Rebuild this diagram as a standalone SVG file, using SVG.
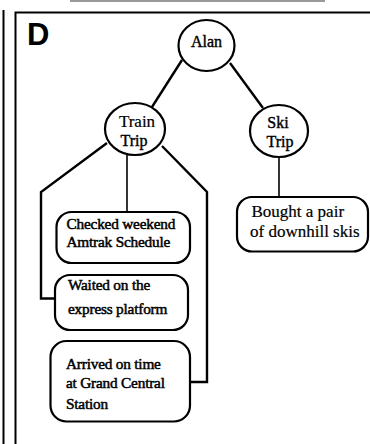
<svg xmlns="http://www.w3.org/2000/svg" width="370" height="444" viewBox="0 0 370 444">
  <style>
    .frame { fill: none; stroke: #000; stroke-width: 2; }
    .node { fill: #fff; stroke: #000; stroke-width: 2.2; }
    .edge { fill: none; stroke: #000; stroke-width: 2.4; stroke-linejoin: miter; }
    .stem { fill: none; stroke: #000; stroke-width: 1.6; }
    .lbl { font-family: "Liberation Serif", "Times New Roman", serif; fill: #000; stroke: #000; stroke-width: 0.4; }
    .big { font-size: 17px; stroke-width: 0.2; }
    .mid { font-size: 16px; }
    .small { font-size: 15.3px; letter-spacing: -0.2px; stroke-width: 0.5; }
  </style>
  <rect width="370" height="444" fill="#fff"/>

  <!-- panel borders -->
  <g id="frame">
    <line x1="70" y1="1" x2="325" y2="1" stroke="#999" stroke-width="2"/>
    <line x1="3.5" y1="10" x2="3.5" y2="444" class="frame"/>
    <polyline points="15.5,444 15.5,12.5 370,12.5" class="frame"/>
    <text x="27" y="45" font-family="Liberation Sans, Arial, sans-serif" font-weight="bold" font-size="31">D</text>
  </g>

  <!-- connectors -->
  <g id="connectors">
    <line x1="182" y1="60" x2="152" y2="107" class="edge"/>
    <line x1="230" y1="63" x2="263" y2="108" class="edge"/>
    <polyline points="107,143 41,192 41,298.5 56,298.5" class="edge"/>
    <line x1="127" y1="155" x2="127" y2="212" class="stem"/>
    <polyline points="162,146 207,192 207,382 190,382" class="edge"/>
    <line x1="279" y1="157" x2="279" y2="197" class="stem"/>
  </g>

  <g id="alan">
    <ellipse cx="206.5" cy="45.5" rx="28" ry="25.5" class="node"/>
    <text x="206.5" y="47" text-anchor="middle" class="lbl mid">Alan</text>
  </g>

  <g id="train-trip">
    <ellipse cx="135" cy="129" rx="30" ry="26" class="node"/>
    <text x="137" y="127" text-anchor="middle" class="lbl big">Train</text>
    <text x="134" y="146" text-anchor="middle" class="lbl mid">Trip</text>
  </g>

  <g id="ski-trip">
    <ellipse cx="279" cy="131" rx="29" ry="26" class="node"/>
    <text x="278" y="128" text-anchor="middle" class="lbl mid">Ski</text>
    <text x="280" y="147" text-anchor="middle" class="lbl mid">Trip</text>
  </g>

  <g id="checked-schedule">
    <rect x="56.5" y="212" width="133.5" height="51" rx="15" class="node"/>
    <text x="66.5" y="228.5" class="lbl small">Checked weekend</text>
    <text x="66.5" y="247" class="lbl small">Amtrak Schedule</text>
  </g>

  <g id="waited-platform">
    <rect x="55" y="275" width="133" height="55" rx="15" class="node"/>
    <text x="68" y="290" class="lbl small">Waited on the</text>
    <text x="68" y="313.5" class="lbl small">express platform</text>
  </g>

  <g id="arrived-station">
    <rect x="50.5" y="341" width="139.5" height="80.5" rx="16" class="node"/>
    <text x="66" y="368.5" class="lbl small">Arrived on time</text>
    <text x="66" y="387.5" class="lbl small">at Grand Central</text>
    <text x="66" y="408.5" class="lbl small">Station</text>
  </g>

  <g id="bought-skis">
    <rect x="237" y="197" width="131" height="54.5" rx="15" class="node"/>
    <text x="251.5" y="216.5" class="lbl big">Bought a pair</text>
    <text x="250" y="236.5" class="lbl big">of downhill skis</text>
  </g>
</svg>
